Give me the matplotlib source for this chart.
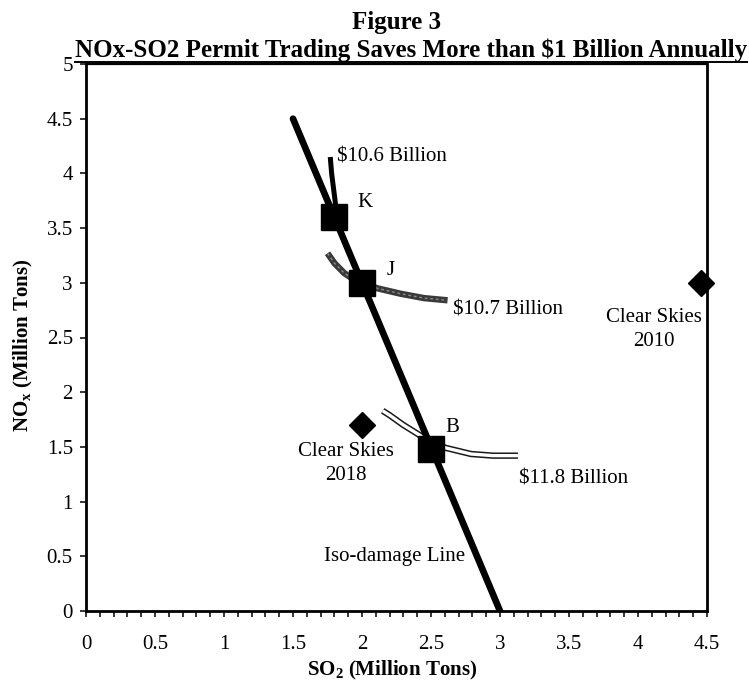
import matplotlib
matplotlib.use("Agg")
import matplotlib.pyplot as plt
from matplotlib.lines import Line2D
from matplotlib.ticker import MultipleLocator

plt.rcParams['font.family'] = ['Liberation Serif', 'DejaVu Serif']
plt.rcParams['mathtext.fontset'] = 'custom'
plt.rcParams['mathtext.rm'] = 'Liberation Serif'
plt.rcParams['mathtext.bf'] = 'Liberation Serif:bold'
plt.rcParams['mathtext.it'] = 'Liberation Serif:italic'

# ---- data ----
iso_x = [1.5, 3.0]
iso_y = [4.5, 0.0]

cost106_x = [1.77, 1.78, 1.80, 1.82]
cost106_y = [4.15, 4.00, 3.80, 3.60]

cost107_x = [1.75, 1.80, 1.87, 1.94, 2.00, 2.11, 2.28, 2.45, 2.62]
cost107_y = [3.27, 3.18, 3.09, 3.03, 3.00, 2.95, 2.90, 2.86, 2.84]

cost118_x = [2.15, 2.20, 2.30, 2.44, 2.50, 2.61, 2.79, 2.95, 3.13]
cost118_y = [1.83, 1.79, 1.70, 1.59, 1.54, 1.49, 1.435, 1.42, 1.42]

sq_x = [1.80, 2.00, 2.50]
sq_y = [3.60, 3.00, 1.48]
sq_labels = ['K', 'J', 'B']

cs_x = [2.00, 4.46]
cs_y = [1.70, 3.00]
cs_labels = ['Clear Skies\n2018', 'Clear Skies\n2010']

x_ticks = [0, 0.5, 1, 1.5, 2, 2.5, 3, 3.5, 4, 4.5]
x_ticklabels = ['0', '0.5', '1', '1.5', '2', '2.5', '3', '3.5', '4', '4.5']
y_ticks = [0, 0.5, 1, 1.5, 2, 2.5, 3, 3.5, 4, 4.5, 5]
y_ticklabels = ['0', '0.5', '1', '1.5', '2', '2.5', '3', '3.5', '4', '4.5', '5']

# ---- figure ----
W, H = 749, 681
fig = plt.figure(figsize=(W / 100, H / 100), dpi=100)
ax = fig.add_axes([86 / W, 70 / H, 621 / W, 547 / H])
ax.set_xlim(0, 4.5)
ax.set_ylim(0, 5)

# iso-cost curves
ax.plot(cost106_x, cost106_y, color='black', lw=3.6, solid_capstyle='butt', zorder=2)
ax.plot(cost107_x, cost107_y, color='#3a3a3a', lw=4.6, solid_capstyle='butt', zorder=2)
ax.plot(cost107_x, cost107_y, color='#8a8a8a', lw=1.0, ls=(0, (2, 2)), zorder=2.1)
ax.plot(cost118_x, cost118_y, color='#1a1a1a', lw=4.6, solid_capstyle='butt', zorder=2)
ax.plot(cost118_x, cost118_y, color='white', lw=2.4, solid_capstyle='butt', zorder=2.1)

# iso-damage line
ax.plot(iso_x, iso_y, color='black', lw=4.8, solid_capstyle='round', zorder=3)

# squares and diamonds
ax.plot(sq_x, sq_y, ls='none', marker='s', markersize=19, color='black', zorder=4)
ax.plot(cs_x, cs_y, ls='none', marker='D', markersize=13, color='black', zorder=4,
        clip_on=False)

fs = 15
ax.text(1.82, 4.15, '$10.6 Billion', fontsize=fs, ha='left', va='center')
ax.text(2.66, 2.75, '$10.7 Billion', fontsize=fs, ha='left', va='center')
ax.text(3.135, 1.21, '$11.8 Billion', fontsize=fs, ha='left', va='center')
ax.text(2.75, 0.50, 'Iso-damage Line', fontsize=fs, ha='right', va='center')

lab_pos = [(1.97, 3.73), (2.18, 3.11), (2.605, 1.68)]
for lab, (tx, ty) in zip(sq_labels, lab_pos):
    ax.text(tx, ty, lab, fontsize=fs, ha='left', va='center')

cs_pos = [(1.88, 1.35), (4.115, 2.57)]
for lab, (tx, ty) in zip(cs_labels, cs_pos):
    ax.text(tx, ty, lab, fontsize=fs, ha='center', va='center', linespacing=1.35)

# axes styling
for s in ax.spines.values():
    s.set_linewidth(2.0)
    s.set_color('black')
ax.spines['top'].set_linewidth(1.6)

ax.set_xticks(x_ticks)
ax.set_xticklabels(x_ticklabels)
ax.set_yticks(y_ticks)
ax.set_yticklabels(y_ticklabels)
ax.xaxis.set_minor_locator(MultipleLocator(0.1))
ax.tick_params(axis='x', which='both', direction='out', length=4.5, width=1.1,
               labelsize=fs, pad=13)
ax.tick_params(axis='y', which='major', direction='out', length=4.5, width=1.1,
               labelsize=fs, pad=5)

ax.set_xlabel(r'SO$_\mathbf{2}$ (Million Tons)', fontsize=fs, fontweight='bold')
ax.set_ylabel(r'NO$_\mathbf{x}$ (Million Tons)', fontsize=fs, fontweight='bold')
ax.xaxis.set_label_coords(0.493, -0.108)
ax.xaxis.label.set_va('center')
ax.yaxis.set_label_coords(-0.1, 0.486)
ax.yaxis.label.set_va('center')
ax.yaxis.label.set_ha('center')

# titles
fig.text(396 / W, 1 - 29 / H, 'Figure 3', fontsize=18, fontweight='bold',
         ha='center', va='baseline')
t2 = fig.text(411 / W, 1 - 57 / H,
              'NOx-SO2 Permit Trading Saves More than $1 Billion Annually',
              fontsize=18, fontweight='bold', ha='center', va='baseline')
fig.canvas.draw()
bb = t2.get_window_extent()
fig.add_artist(Line2D([bb.x0 / W, bb.x1 / W], [1 - 61.5 / H, 1 - 61.5 / H],
                      transform=fig.transFigure, color='black', lw=1.4))

fig.savefig('out.png', dpi=100)
